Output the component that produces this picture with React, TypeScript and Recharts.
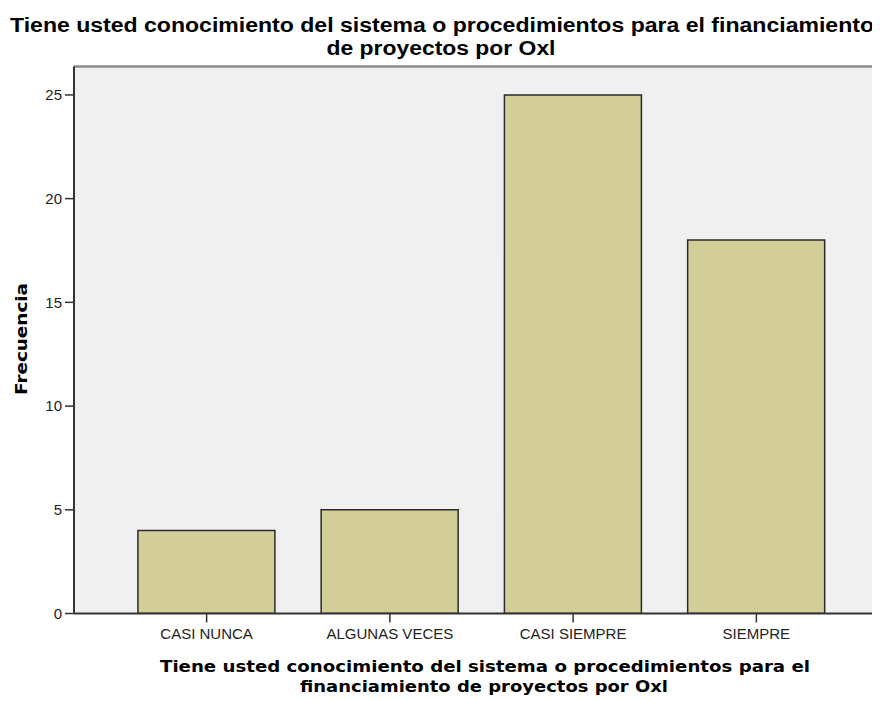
import React from "react";
import { BarChart, Bar, XAxis, YAxis, CartesianGrid, ReferenceLine } from "recharts";

const categories = ["CASI NUNCA", "ALGUNAS VECES", "CASI SIEMPRE", "SIEMPRE"];
const frequencies = [4, 5, 25, 18];
const yTicks = [0, 5, 10, 15, 20, 25];
const yMax = 26.37;

const titleLines = [
  "Tiene usted conocimiento del sistema o procedimientos para el financiamiento",
  "de proyectos por Oxl",
];
const xTitleLines = [
  "Tiene usted conocimiento del sistema o procedimientos para el",
  "financiamiento de proyectos por Oxl",
];
const yTitle = "Frecuencia";

const data = categories.map((c, i) => ({ category: c, value: frequencies[i] }));

const W = 872;
const H = 690;

export default function App() {
  return (
    <div style={{ position: "relative", width: W, height: H }}>
      <BarChart
        width={W}
        height={H}
        data={data}
        margin={{ top: 58.5, right: 0, bottom: 54.5, left: 6 }}
        barCategoryGap="12.5%"
      >
        <CartesianGrid fill="#f0f0f0" horizontal={false} vertical={false} />
        <XAxis
          dataKey="category"
          height={30}
          padding={{ left: 41, right: 32 }}
          tickSize={9}
          tickMargin={6}
          axisLine={{ stroke: "#333", strokeWidth: 2 }}
          tickLine={{ stroke: "#333", strokeWidth: 1.5 }}
          tick={{ fill: "#222", fontSize: 15, fontFamily: "Liberation Sans, Arial, sans-serif" }}
          interval={0}
        />
        <YAxis
          width={60}
          domain={[0, yMax]}
          ticks={yTicks}
          allowDataOverflow
          tickSize={9}
          tickMargin={3}
          axisLine={{ stroke: "#333", strokeWidth: 2 }}
          tickLine={{ stroke: "#333", strokeWidth: 1.5 }}
          tick={{ fill: "#222", fontSize: 15, fontFamily: "Liberation Sans, Arial, sans-serif" }}
        />
        <ReferenceLine y={yMax} stroke="#8a8a8a" strokeWidth={2.5} ifOverflow="visible" />
        <Bar
          dataKey="value"
          fill="#d3ce97"
          stroke="#2a2a2a"
          strokeWidth={1.5}
          isAnimationActive={false}
        />
      </BarChart>
      <svg
        width={W}
        height={H}
        style={{ position: "absolute", left: 0, top: 0, pointerEvents: "none" }}
      >
        <g fontFamily="Liberation Sans, Arial, sans-serif" fontWeight="bold" fontSize={20} fill="#000" textAnchor="middle">
          <text x={434} y={24} textLength={864} lengthAdjust="spacingAndGlyphs">{titleLines[0]}</text>
          <text x={433} y={47} textLength={229} lengthAdjust="spacingAndGlyphs">{titleLines[1]}</text>
        </g>
        <g fontFamily="DejaVu Sans, sans-serif" fontWeight="bold" fontSize={16} fill="#000" textAnchor="middle">
          <text x={477} y={664} textLength={650} lengthAdjust="spacingAndGlyphs">{xTitleLines[0]}</text>
          <text x={476} y={684} textLength={368} lengthAdjust="spacingAndGlyphs">{xTitleLines[1]}</text>
          <text
            x={13}
            y={331}
            transform="rotate(-90 13 331)"
            dominantBaseline="central"
            textLength={112}
            lengthAdjust="spacingAndGlyphs"
          >
            {yTitle}
          </text>
        </g>
      </svg>
    </div>
  );
}
